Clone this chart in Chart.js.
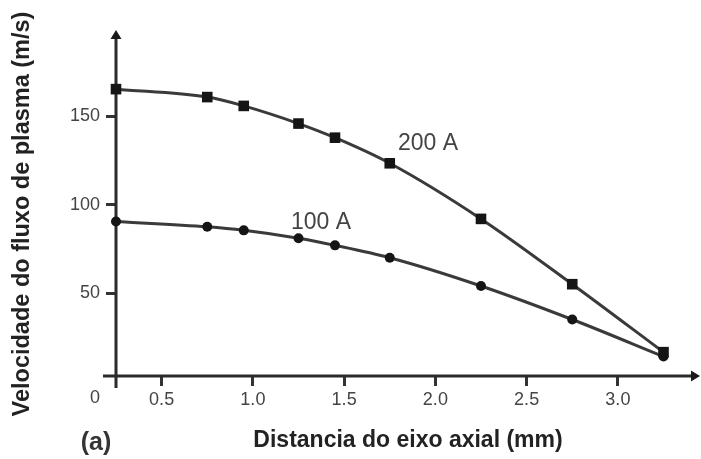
<!DOCTYPE html>
<html>
<head>
<meta charset="utf-8">
<script src="https://cdn.jsdelivr.net/npm/chart.js@4.4.1/dist/chart.umd.min.js"></script>
<style>
  html, body { margin: 0; padding: 0; background: #fff; overflow: hidden; }
  canvas { display: block; }
</style>
</head>
<body>
<canvas id="plasmaChart" width="701" height="459"></canvas>
<script>
// Dados
var distancias = [0.25, 0.75, 0.95, 1.25, 1.45, 1.75, 2.25, 2.75, 3.25];
var velocidade200A = [165.5, 161, 156, 146, 138, 123.5, 92, 55, 16.5];
var velocidade100A = [90.5, 87.5, 85.5, 81, 77, 70, 54, 35, 14];
var xTicks = [0.5, 1.0, 1.5, 2.0, 2.5, 3.0];
var yTicks = [50, 100, 150];

var corLinha = '#3a3a3a';
var corTexto = '#444';
var fonte = "'Liberation Sans', Arial, sans-serif";

// eixos com setas, rótulo "0", "(a)", título do eixo y e nomes das curvas
var eixosPlugin = {
    id: 'eixos',
    beforeDatasetsDraw: function(chart) {
        var ctx = chart.ctx, a = chart.chartArea;
        ctx.save();
        ctx.strokeStyle = '#2b2b2b';
        ctx.fillStyle = '#1a1a1a';
        ctx.lineWidth = 3;
        ctx.beginPath();
        ctx.moveTo(a.left, a.bottom + 12);
        ctx.lineTo(a.left, a.top + 6);
        ctx.moveTo(a.left - 13, a.bottom);
        ctx.lineTo(a.right - 6, a.bottom);
        ctx.stroke();
        // setas
        ctx.beginPath();
        ctx.moveTo(a.left, a.top);
        ctx.lineTo(a.left - 5.5, a.top + 9);
        ctx.lineTo(a.left + 5.5, a.top + 9);
        ctx.closePath();
        ctx.fill();
        ctx.beginPath();
        ctx.moveTo(a.right, a.bottom);
        ctx.lineTo(a.right - 9, a.bottom - 5.5);
        ctx.lineTo(a.right - 9, a.bottom + 5.5);
        ctx.closePath();
        ctx.fill();
        ctx.restore();
    },
    afterDraw: function(chart) {
        var ctx = chart.ctx, a = chart.chartArea;
        ctx.save();
        ctx.fillStyle = corTexto;
        ctx.font = '18px ' + fonte;
        ctx.textAlign = 'center';
        ctx.textBaseline = 'top';
        ctx.fillText('0', 95, a.bottom + 13);
        ctx.font = '23px ' + fonte;
        ctx.textBaseline = 'middle';
        ctx.fillText('200 A', 428, 144);
        ctx.fillText('100 A', 321, 223);
        ctx.fillStyle = '#333';
        ctx.font = 'bold 25px ' + fonte;
        ctx.fillText('(a)', 96, 443);
        // título do eixo y
        ctx.fillStyle = '#222';
        ctx.font = 'bold 23.5px ' + fonte;
        ctx.translate(23, 214);
        ctx.rotate(-Math.PI / 2);
        ctx.fillText('Velocidade do fluxo de plasma (m/s)', 0, 0);
        ctx.restore();
    }
};

var ctx = document.getElementById('plasmaChart').getContext('2d');
var plasmaChart = new Chart(ctx, {
    type: 'line',
    data: {
        datasets: [{
            label: '200 A',
            data: distancias.map(function(x, i) { return { x: x, y: velocidade200A[i] }; }),
            borderColor: corLinha,
            borderWidth: 3,
            pointStyle: 'rect',
            pointRadius: 7.5,
            pointBackgroundColor: '#151515',
            pointBorderColor: '#151515',
            pointBorderWidth: 0,
            cubicInterpolationMode: 'monotone',
            clip: false
        }, {
            label: '100 A',
            data: distancias.map(function(x, i) { return { x: x, y: velocidade100A[i] }; }),
            borderColor: corLinha,
            borderWidth: 3,
            pointStyle: 'circle',
            pointRadius: 5,
            pointBackgroundColor: '#151515',
            pointBorderColor: '#151515',
            pointBorderWidth: 0,
            cubicInterpolationMode: 'monotone',
            clip: false
        }]
    },
    options: {
        responsive: false,
        animation: false,
        layout: { autoPadding: false, padding: { top: 30, right: 1, left: 0, bottom: 0 } },
        plugins: { legend: { display: false }, tooltip: { enabled: false } },
        scales: {
            x: {
                type: 'linear',
                min: 0.25,
                max: 3.45,
                afterFit: function(scale) {
                    scale.height = 83;
                    scale.paddingLeft = 0;
                    scale.paddingRight = 0;
                },
                afterBuildTicks: function(scale) {
                    scale.ticks = xTicks.map(function(v) { return { value: v }; });
                },
                grid: { display: true, drawOnChartArea: false, drawTicks: true, tickLength: 10, color: '#333', lineWidth: 3 },
                border: { display: false },
                ticks: {
                    padding: 3,
                    color: corTexto,
                    font: { family: fonte, size: 18 },
                    callback: function(v) { return v.toFixed(1); }
                },
                title: {
                    display: true,
                    text: 'Distancia do eixo axial (mm)',
                    color: '#222',
                    font: { family: fonte, size: 23, weight: 'bold' },
                    padding: { top: 0, bottom: 5 }
                }
            },
            y: {
                type: 'linear',
                min: 3,
                max: 199,
                afterFit: function(scale) {
                    scale.width = 116;
                    scale.paddingTop = 0;
                    scale.paddingBottom = 0;
                },
                afterBuildTicks: function(scale) {
                    scale.ticks = yTicks.map(function(v) { return { value: v }; });
                },
                grid: { display: true, drawOnChartArea: false, drawTicks: true, tickLength: 10, color: '#333', lineWidth: 3 },
                border: { display: false },
                ticks: {
                    padding: 6,
                    color: corTexto,
                    font: { family: fonte, size: 18 }
                }
            }
        }
    },
    plugins: [eixosPlugin]
});
</script>
</body>
</html>
